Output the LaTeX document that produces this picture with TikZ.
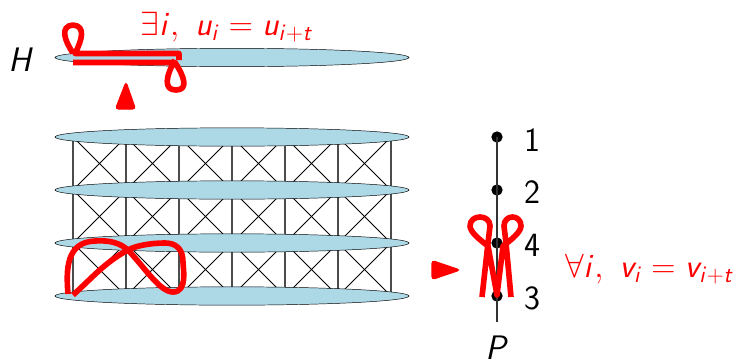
\RequirePackage{fix-cm}
\documentclass[tikz,border=0pt]{standalone}
\usepackage{amsmath}
\usepackage{tikz}
\usetikzlibrary{arrows.meta, positioning, calc, shapes.geometric}

\DeclareMathAlphabet{\mathsl}{OT1}{cmss}{m}{sl}

\begin{document}
\begin{tikzpicture}[
    x=0.03cm, y=-0.03cm,
    disc/.style={ellipse, draw, fill=lightblue, minimum width=10.62cm, minimum height=0.55cm, inner sep=0pt},
    point/.style={circle, fill=black, minimum size=0.34cm, inner sep=0pt},
    rib/.style={black!70, line width=1.2pt},
    brace/.style={black, line width=0.8pt},
    loopline/.style={red, line width=4.8pt, line join=round},
    tip/.style={fill=red, draw=red, line width=1pt, rounded corners=2.5pt},
    biglabel/.style={font=\fontsize{29}{32}\selectfont\sffamily, inner sep=0pt},
    redlabel/.style={font=\fontsize{28.6}{32}\selectfont\sffamily, text=red, inner sep=0pt},
]
\definecolor{lightblue}{RGB}{173,216,230}
\useasboundingbox (0,0) rectangle (736,361);

% === Grid between the discs ===

\foreach \xx [count=\ii] in {73,126,179,232,285,338,391} {
    \foreach \yy [count=\jj] in {137,190,243,296} {
        \coordinate (g-\ii-\jj) at (\xx,\yy);
    }
}
\foreach \ii in {1,...,7} {
    \foreach \jj [evaluate=\jj as \kk using int(\jj+1)] in {1,2,3} {
        \draw[rib] (g-\ii-\jj) -- (g-\ii-\kk);
    }
}
\foreach \ii [evaluate=\ii as \mm using int(\ii+1)] in {1,...,6} {
    \foreach \jj [evaluate=\jj as \kk using int(\jj+1)] in {1,2,3} {
        \draw[brace] (g-\ii-\jj) -- (g-\mm-\kk);
        \draw[brace] (g-\mm-\jj) -- (g-\ii-\kk);
    }
}

% === Discs ===

\node[disc] (disc-h) at (232,57.5) {};
\node[disc] (disc-1) at (232,137) {};
\node[disc] (disc-2) at (232,190) {};
\node[disc] (disc-3) at (232,243) {};
\node[disc] (disc-4) at (232,296) {};

\node[biglabel] (label-h) at (21,60) {$\mathsl{H}$};

% === Base path ===

\node[point] (pt-1) at (497,137) {};
\node[point] (pt-2) at (497,190) {};
\node[point] (pt-4) at (497,243) {};
\node[point] (pt-3) at (497,296) {};
\coordinate (end-p) at (497,322);
\draw[black!80, line width=1pt] (pt-1.center) -- (end-p);

\node[biglabel] (num-1) at (532,140) {1};
\node[biglabel] (num-2) at (532,192) {2};
\node[biglabel] (num-4) at (532,245) {4};
\node[biglabel] (num-3) at (532,298) {3};
\node[biglabel] (label-p) at (497,347.5) {$\mathsl{P}$};

% === Red loops ===

\draw[loopline]
    (73,53) .. controls (64,40) and (60,26) .. (73,25)
    .. controls (86,26) and (82,40) .. (75,53.5) -- (179,53.5) -- (179,60)
    (73,62.5) -- (175,62.5)
    .. controls (184,76) and (189,90) .. (176,90)
    .. controls (163,90) and (166,76) .. (175,60);

\draw[loopline]
    (68,294) .. controls (66,270) and (66,242) .. (95,241)
    .. controls (110,240) and (120,243) .. (128,250)
    .. controls (145,268) and (160,292) .. (173,292)
    .. controls (188,292) and (183,268) .. (183,262)
    .. controls (183,248) and (175,243) .. (165,243)
    .. controls (150,243) and (135,246) .. (128,250)
    .. controls (105,262) and (90,280) .. (73,295);

\draw[loopline]
    (482,297) -- (488,243) -- (490,226)
    .. controls (490,214) and (470,214) .. (470,226)
    .. controls (470,232) and (480,240) .. (488,246)
    -- (497,295) -- (503,246)
    .. controls (511,240) and (521,232) .. (521,226)
    .. controls (521,214) and (504,214) .. (504,226)
    -- (506,243) -- (511,297);

% === Red arrows and labels ===

\draw[tip] (115.5,109) -- (135.5,109) -- (126,82) -- cycle;
\draw[tip] (432,260.5) -- (432,279.5) -- (460,270) -- cycle;

\node[redlabel] (label-u) at (227,27) {$\exists \mathsl{i},\ \mathsl{u}_{\mathsl{i}} = \mathsl{u}_{\mathsl{i}+\mathsl{t}}$};
\node[redlabel] (label-v) at (649.5,269) {$\forall \mathsl{i},\ \mathsl{v}_{\mathsl{i}} = \mathsl{v}_{\mathsl{i}+\mathsl{t}}$};

\end{tikzpicture}
\end{document}
